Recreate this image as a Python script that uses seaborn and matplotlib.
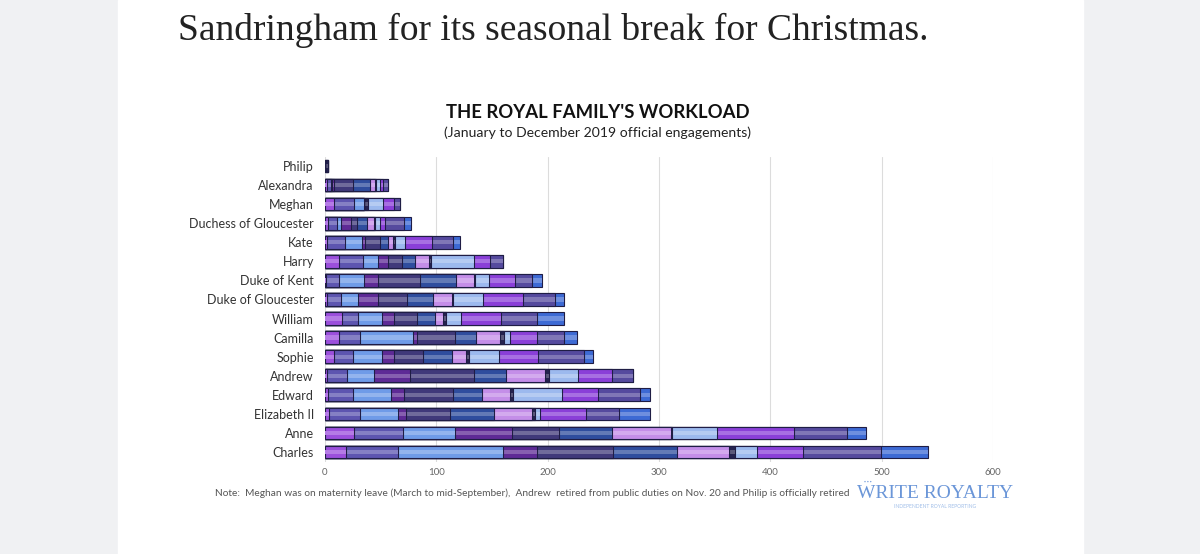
import numpy as np
import pandas as pd
import matplotlib.pyplot as plt
import matplotlib.patches as mpatches
import seaborn as sns

names = ["Philip", "Alexandra", "Meghan", "Duchess of Gloucester", "Kate", "Harry",
         "Duke of Kent", "Duke of Gloucester", "William", "Camilla", "Sophie",
         "Andrew", "Edward", "Elizabeth II", "Anne", "Charles"]
months = ["Jan", "Feb", "Mar", "Apr", "May", "Jun",
          "Jul", "Aug", "Sep", "Oct", "Nov", "Dec"]

# engagements per month, same order as names
jan = [0, 2, 8, 3, 2, 13, 1, 2, 15, 13, 8, 2, 3, 4, 26, 19]
feb = [0, 3, 18, 8, 16, 21, 12, 12, 15, 18, 17, 18, 22, 27, 44, 47]
mar = [0, 1, 9, 3, 15, 14, 22, 16, 21, 48, 26, 24, 34, 35, 47, 94]
apr = [0, 2, 0, 9, 3, 9, 13, 18, 11, 4, 11, 32, 12, 7, 51, 30]
may = [0, 17, 0, 6, 13, 12, 37, 26, 21, 34, 26, 58, 44, 39, 42, 69]
jun = [0, 15, 0, 9, 8, 12, 33, 23, 16, 19, 26, 29, 26, 40, 48, 57]
jul = [0, 5, 0, 6, 4, 12, 16, 17, 7, 21, 13, 35, 25, 34, 53, 47]
aug = [3, 1, 4, 1, 2, 2, 1, 1, 3, 4, 2, 3, 3, 3, 1, 5]
sep = [0, 3, 13, 4, 9, 39, 12, 27, 13, 5, 27, 26, 44, 4, 40, 20]
oct_ = [0, 3, 10, 5, 24, 14, 24, 36, 36, 24, 35, 31, 32, 41, 69, 41]
nov = [0, 5, 5, 17, 19, 12, 15, 29, 32, 25, 42, 19, 38, 30, 48, 70]
dec = [0, 0, 0, 6, 6, 0, 9, 8, 25, 11, 8, 0, 9, 28, 17, 43]

month_colors = ["#9b4fdc", "#5d55b0", "#6f9be8", "#5e2a96", "#40397a", "#2f4d9e",
                "#c48ee8", "#25224f", "#9cb9ee", "#8a3fd8", "#554a9e", "#3d6ad4"]
ticks = [0, 100, 200, 300, 400, 500, 600]

df = pd.DataFrame(np.array([jan, feb, mar, apr, may, jun, jul, aug, sep, oct_, nov, dec]).T,
                  index=names, columns=months)
cum = df.cumsum(axis=1)

sns.set_style("white")
plt.rcParams["font.family"] = ["Lato", "DejaVu Sans"]

fig = plt.figure(figsize=(12, 5.54), dpi=100, facecolor="#f0f1f3")
fig.patches.append(mpatches.Rectangle((118 / 1200, 0), (1083 - 118) / 1200, 1,
                                      transform=fig.transFigure, color="white", zorder=-10))
ax = fig.add_axes([325 / 1200, 1 - 461.5 / 554, (993 - 325) / 1200, 305 / 554])
ax.set_zorder(2)
ax.set_facecolor("white")

# stacked bars: draw cumulative totals from longest to shortest
for m, c in zip(reversed(months), reversed(month_colors)):
    sns.barplot(x=cum[m].values, y=names, order=names, orient="h", color=c,
                saturation=1, width=0.66, edgecolor="#1f1d45", linewidth=0.8,
                errorbar=None, ax=ax, zorder=3)
    # lighter inner band for the bevelled look
    rgb = np.array(plt.matplotlib.colors.to_rgb(c))
    light = tuple(rgb + (1 - rgb) * 0.25)
    sns.barplot(x=cum[m].values, y=names, order=names, orient="h", color=light,
                saturation=1, width=0.22, linewidth=0, errorbar=None, ax=ax, zorder=3)

ax.set_xlim(0, 600)
ax.set_ylim(15.5, -0.5)
ax.set_xticks(ticks)
ax.set_xticklabels([str(t) for t in ticks], fontsize=7, color="#666666")
ax.tick_params(axis="x", length=0, pad=5)
ax.tick_params(axis="y", length=0, pad=8, labelsize=9, labelcolor="#333333")
ax.set_xlabel("")
ax.set_ylabel("")
ax.grid(axis="x", color="#dcdcdc", linewidth=0.8, zorder=0)
ax.set_axisbelow(True)
for s in ax.spines.values():
    s.set_visible(False)

fig.text(178 / 1200, 1 - 30 / 554, "Sandringham for its seasonal break for Christmas.",
         family="Liberation Serif", fontsize=27, color="#222222", va="center", ha="left")
fig.text(598 / 1200, 1 - 112 / 554, "THE ROYAL FAMILY'S WORKLOAD",
         fontsize=13.3, fontweight="bold", color="#111111", ha="center", va="center")
fig.text(598 / 1200, 1 - 133 / 554, "(January to December 2019 official engagements)",
         fontsize=10.1, color="#222222", ha="center", va="center")
fig.text(215 / 1200, 1 - 493 / 554,
         "Note:  Meghan was on maternity leave (March to mid-September),  Andrew  retired from "
         "public duties on Nov. 20 and Philip is officially retired",
         fontsize=7.3, color="#555555", ha="left", va="center")
fig.text(935 / 1200, 1 - 494 / 554, "WRITE ROYALTY", family="Liberation Serif",
         fontsize=14, color="#6b96d8", ha="center", va="center")
fig.text(935 / 1200, 1 - 506 / 554, "INDEPENDENT ROYAL REPORTING",
         fontsize=3.6, color="#9fbde8", ha="center", va="center")
fig.text(868 / 1200, 1 - 482 / 554, "• • •", fontsize=2.5, color="#6b96d8",
         ha="center", va="center")

fig.savefig("out.png", dpi=100, facecolor=fig.get_facecolor())
